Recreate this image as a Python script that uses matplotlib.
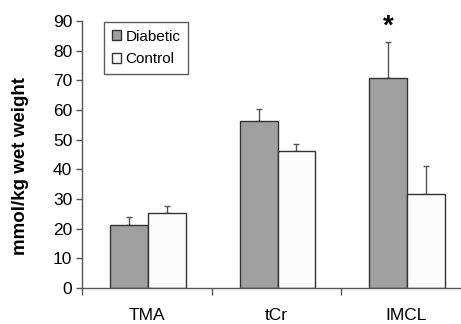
import matplotlib
matplotlib.use("Agg")
import matplotlib.pyplot as plt
import numpy as np

categories = ["TMA", "tCr", "IMCL"]
diabetic = [21.3, 56.2, 70.8]
diabetic_err = [2.6, 4.0, 12.0]
control = [25.2, 46.1, 31.6]
control_err = [2.3, 2.5, 9.4]
y_ticks = [0, 10, 20, 30, 40, 50, 60, 70, 80, 90]

plt.rcParams['font.family'] = ['Liberation Sans', 'DejaVu Sans']

W, H = 461, 324
fig = plt.figure(figsize=(W / 100, H / 100), dpi=100)
left_px, right_px, bottom_px, top_px = 82, 461, 288, 21
ax = fig.add_axes([left_px / W, (H - bottom_px) / H, (right_px - left_px) / W, (bottom_px - top_px) / H])

cat_px = 129.5
x = np.arange(len(categories)) + 0.51
bw = 0.29
edge = '#333333'
ax.bar(x - bw / 2, diabetic, bw, color='#a0a0a0', edgecolor=edge, linewidth=1.0, label='Diabetic', zorder=2)
ax.bar(x + bw / 2, control, bw, color='#fcfcfc', edgecolor=edge, linewidth=1.0, label='Control', zorder=2)
ax.errorbar(x - bw / 2, diabetic, yerr=[np.zeros(3), diabetic_err], fmt='none', ecolor='#555555',
            elinewidth=1.0, capsize=2.2, capthick=1.0, zorder=1)
ax.errorbar(x + bw / 2, control, yerr=[np.zeros(3), control_err], fmt='none', ecolor='#555555',
            elinewidth=1.0, capsize=2.2, capthick=1.0, zorder=1)

ax.text(x[2] - bw / 2, diabetic[2] + diabetic_err[2] + 1.0, '*', ha='center', va='bottom',
        fontsize=20, fontweight='bold')

ax.set_xlim(0, (right_px - left_px) / cat_px)
ax.set_ylim(0, 90)
ax.set_yticks(y_ticks)
ax.set_yticklabels([str(t) for t in y_ticks], fontsize=12.5)
ax.set_xticks([0, 1, 2])
ax.set_xticklabels([])
ax.tick_params(axis='x', length=5, color='#555555', width=1)
ax.tick_params(axis='y', length=4, color='#555555', width=1, pad=3)
for i, c in enumerate(categories):
    ax.text(x[i] - 0.01, -9.3, c, ha='center', va='center', fontsize=12.5)

for s in ['top', 'right']:
    ax.spines[s].set_visible(False)
for s in ['left', 'bottom']:
    ax.spines[s].set_color('#555555')
    ax.spines[s].set_linewidth(1.0)

ax.set_ylabel('mmol/kg wet weight', fontsize=13.5, fontweight='bold')
ax.yaxis.set_label_coords((29 - left_px) / (right_px - left_px), (bottom_px - 166) / (bottom_px - top_px))

leg = ax.legend(loc='upper left', bbox_to_anchor=((104 - left_px) / (right_px - left_px), 1.0 - (22 - top_px) / (bottom_px - top_px)),
                fontsize=11, frameon=True, fancybox=False, edgecolor='#333333',
                handlelength=0.6, handleheight=0.6, handletextpad=0.3, borderpad=0.5,
                labelspacing=0.55, borderaxespad=0)
leg.get_frame().set_linewidth(1.0)

fig.savefig('out.png', dpi=100)
